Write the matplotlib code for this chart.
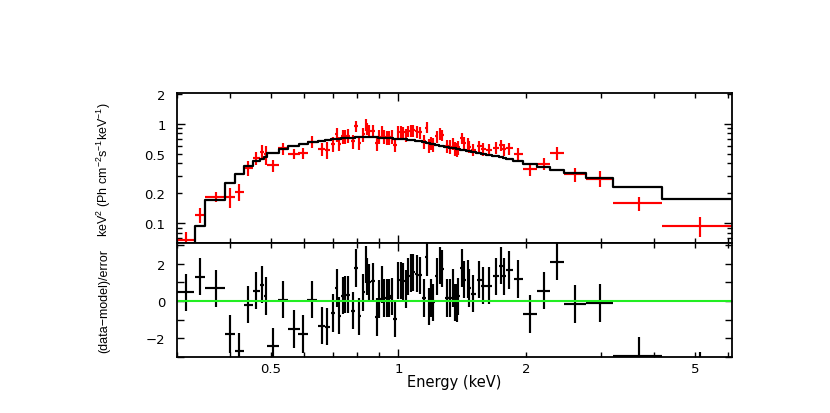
import numpy as np
import matplotlib
matplotlib.use("Agg")
import matplotlib.pyplot as plt
from matplotlib.ticker import FixedLocator, FixedFormatter

# ---------------- data ----------------
energy = [
    0.3155, 0.3405, 0.3705, 0.4013, 0.4216, 0.4424, 0.4625, 0.4760, 0.4860, 0.5072,
    0.5356, 0.5675, 0.5970, 0.6267, 0.6597, 0.6800, 0.7026,
    0.7156, 0.7257, 0.7393, 0.7485, 0.7621, 0.7806, 0.7947, 0.8091, 0.8270, 0.8378,
    0.8450, 0.8543, 0.8701, 0.8893, 0.9019, 0.9137, 0.9253, 0.9389, 0.9524, 0.9647,
    0.9822, 1.0000, 1.0131, 1.0276, 1.0427, 1.0558, 1.0697, 1.0849, 1.1051, 1.1251,
    1.1497, 1.1654, 1.1814, 1.1943, 1.2094, 1.2319, 1.2542, 1.2699, 1.3006, 1.3241,
    1.3481, 1.3606, 1.3732, 1.3852, 1.4110, 1.4310, 1.4577, 1.4680, 1.5027, 1.5500,
    1.5866, 1.6365, 1.6970, 1.7468, 1.7783, 1.8243, 1.9190,
    2.046, 2.200, 2.370, 2.615, 2.987, 3.692, 5.147]
energy_err = [
    0.0146, 0.0092, 0.0202, 0.0111, 0.0096, 0.0112, 0.0090, 0.0050, 0.0050, 0.0162,
    0.0147, 0.0182, 0.0164, 0.0170, 0.0126, 0.0100, 0.0080,
    0.0058, 0.0059, 0.0057, 0.0057, 0.0080, 0.0082, 0.0071, 0.0081, 0.0072, 0.0045,
    0.0041, 0.0063, 0.0088, 0.0080, 0.0061, 0.0059, 0.0063, 0.0068, 0.0065, 0.0075,
    0.0088, 0.0077, 0.0069, 0.0074, 0.0071, 0.0068, 0.0073, 0.0089, 0.0100, 0.0112,
    0.0101, 0.0079, 0.0072, 0.0070, 0.0094, 0.0112, 0.0095, 0.0116, 0.0136, 0.0119,
    0.0091, 0.0063, 0.0062, 0.0095, 0.0115, 0.0117, 0.0093, 0.0113, 0.0205, 0.0210,
    0.0216, 0.0276, 0.0276, 0.0203, 0.0194, 0.0352, 0.0500,
    0.0746, 0.0795, 0.0900, 0.1560, 0.2160, 0.4890, 0.9660]
flux = [
    0.0675, 0.1203, 0.184, 0.183, 0.2065, 0.360, 0.456, 0.520, 0.492, 0.382,
    0.567, 0.500, 0.508, 0.662, 0.561, 0.548, 0.630,
    0.7855, 0.632, 0.7473, 0.7543, 0.7596, 0.6706, 0.9482, 0.6462, 0.7864, 0.9795,
    0.893, 0.8508, 0.8547, 0.6403, 0.7387, 0.8275, 0.7387, 0.737, 0.7336, 0.7404,
    0.6157, 0.8342, 0.8313, 0.8197, 0.7671, 0.843, 0.8598, 0.8568, 0.8408, 0.8197,
    0.669, 0.9182, 0.6101, 0.6449, 0.6157, 0.7456, 0.7992, 0.7724, 0.599, 0.5908,
    0.6323, 0.5589, 0.5524, 0.5786, 0.7153, 0.6434, 0.6375, 0.5887, 0.5499, 0.5963,
    0.5576, 0.5448, 0.5719, 0.6101, 0.5524, 0.5666, 0.499,
    0.354, 0.397, 0.508, 0.312, 0.281, 0.1576, 0.0933]
flux_err = [
    0.014, 0.021, 0.020, 0.0415, 0.0404, 0.060, 0.067, 0.086, 0.110, 0.052,
    0.080, 0.061, 0.065, 0.095, 0.087, 0.101, 0.108,
    0.126, 0.101, 0.120, 0.121, 0.122, 0.107, 0.125, 0.103, 0.126, 0.130,
    0.122, 0.119, 0.119, 0.102, 0.118, 0.118, 0.118, 0.118, 0.117, 0.118,
    0.099, 0.116, 0.116, 0.113, 0.112, 0.114, 0.116, 0.115, 0.113, 0.111,
    0.105, 0.116, 0.096, 0.100, 0.098, 0.101, 0.104, 0.102, 0.094, 0.093,
    0.090, 0.090, 0.089, 0.090, 0.094, 0.089, 0.088, 0.084, 0.079, 0.082,
    0.078, 0.076, 0.078, 0.080, 0.077, 0.076, 0.069,
    0.053, 0.053, 0.0775, 0.050, 0.050, 0.0247, 0.0212]
model = [
    0.061, 0.0934, 0.1703, 0.256, 0.3153, 0.375, 0.419, 0.4455, 0.4614, 0.508,
    0.5613, 0.5921, 0.623, 0.6553, 0.6753, 0.6863, 0.699,
    0.7071, 0.7105, 0.7153, 0.717, 0.7219, 0.7253, 0.7286, 0.7303, 0.732, 0.732,
    0.732, 0.732, 0.7303, 0.7286, 0.727, 0.7253, 0.7219, 0.7203, 0.717, 0.7137,
    0.7105, 0.7071, 0.7055, 0.7006, 0.6958, 0.691, 0.6863, 0.6816, 0.6753, 0.6676,
    0.6539, 0.6449, 0.6375, 0.6302, 0.623, 0.6116, 0.6018, 0.5963, 0.5854, 0.5773,
    0.5694, 0.5655, 0.5615, 0.5576, 0.5499, 0.5423, 0.5337, 0.530, 0.519, 0.5025,
    0.4933, 0.4821, 0.4688, 0.4592, 0.4529, 0.4405, 0.4177,
    0.3906, 0.3678, 0.3456, 0.3202, 0.284, 0.2318, 0.1729]
resid = [
    0.46, 1.30, 0.68, -1.76, -2.69, -0.20, 0.55, 0.87, 0.28, -2.42,
    0.07, -1.50, -1.76, 0.07, -1.32, -1.37, -0.64,
    0.70, -0.78, 0.29, 0.34, 0.34, -0.52, 1.76, -0.82, 0.47, 1.94,
    1.32, 1.00, 1.05, -0.86, 0.11, 0.87, 0.16, 0.16, 0.16, 0.25,
    -0.95, 1.10, 1.09, 1.05, 0.64, 1.32, 1.50, 1.53, 1.46, 1.37,
    0.16, 2.35, -0.29, 0.16, -0.07, 1.32, 1.89, 1.73, 0.16, 0.16,
    0.70, -0.07, -0.11, 0.25, 1.76, 1.14, 1.18, 0.70, 0.39, 1.14,
    0.82, 0.82, 1.32, 1.89, 1.32, 1.67, 1.18,
    -0.70, 0.55, 2.10, -0.16, -0.11, -2.94, -3.75]
resid_err = 1.0

x_major = [1.0]
x_minor = [0.3, 0.4, 0.5, 0.6, 0.7, 0.8, 0.9, 2, 3, 4, 5, 6]
x_major_labels = ["1"]
x_minor_labels = ["", "", "0.5", "", "", "", "", "2", "", "", "5", ""]
y_major = [0.1, 1.0]
y_minor = [0.07, 0.08, 0.09, 0.2, 0.3, 0.4, 0.5, 0.6, 0.7, 0.8, 0.9, 2.0]
y_major_labels = ["0.1", "1"]
y_minor_labels = ["", "", "", "0.2", "", "", "0.5", "", "", "", "", "2"]
r_major = [-2, 0, 2]
r_minor = [-3, -1, 1, 3]
r_major_labels = ["\u22122", "0", "2"]

assert len(energy) == len(energy_err) == len(flux) == len(flux_err) == len(model) == len(resid)

# ---------------- figure ----------------
W, H = 830, 414
fig = plt.figure(figsize=(W / 100, H / 100), dpi=100)
fig.patch.set_facecolor("white")

L, R_ = 176.7, 731.7
T1, B1, B2 = 94.3, 244.3, 358.3
ax1 = fig.add_axes([L / W, 1 - B1 / H, (R_ - L) / W, (B1 - T1) / H])
ax2 = fig.add_axes([L / W, 1 - B2 / H, (R_ - L) / W, (B2 - B1) / H])

E = np.array(energy)
dE = np.array(energy_err)
lo, hi = E - dE, E + dE
edges = np.empty(len(E) + 1)
edges[0], edges[-1] = lo[0], hi[-1]
edges[1:-1] = 0.5 * (hi[:-1] + lo[1:])
xs = np.repeat(edges, 2)[1:-1]
ys = np.repeat(np.array(model), 2)

ax1.errorbar(E, flux, xerr=dE, yerr=flux_err, fmt="none", ecolor="#ff0000",
             elinewidth=1.55, capsize=0, zorder=2)
ax1.plot(xs, ys, color="black", lw=1.6, zorder=3)

ax2.errorbar(E, resid, xerr=dE, yerr=resid_err, fmt="none", ecolor="black",
             elinewidth=1.55, capsize=0, zorder=2)
ax2.axhline(0, color="#22ee22", lw=1.5, zorder=3)

xlim = (0.3, 6.11)
for ax in (ax1, ax2):
    ax.set_xscale("log")
    ax.set_xlim(*xlim)
    ax.xaxis.set_major_locator(FixedLocator(x_major))
    ax.xaxis.set_minor_locator(FixedLocator(x_minor))
    for s in ax.spines.values():
        s.set_linewidth(1.3)
        s.set_zorder(5)
    ax.tick_params(which="both", direction="in", top=True, right=True, width=1.0)
    ax.tick_params(which="major", length=6)
    ax.tick_params(which="minor", length=3.5)

ax1.set_yscale("log")
ax1.set_ylim(0.0626, 2.03)
ax1.yaxis.set_major_locator(FixedLocator(y_major))
ax1.yaxis.set_minor_locator(FixedLocator(y_minor))
ax1.yaxis.set_major_formatter(FixedFormatter(y_major_labels))
ax1.yaxis.set_minor_formatter(FixedFormatter(y_minor_labels))
ax1.tick_params(axis="x", which="both", labelbottom=False)
ax1.tick_params(axis="y", which="both", pad=8, labelsize=9.5)

ax2.set_ylim(-3.01, 3.09)
ax2.yaxis.set_major_locator(FixedLocator(r_major))
ax2.yaxis.set_minor_locator(FixedLocator(r_minor))
ax2.yaxis.set_major_formatter(FixedFormatter(r_major_labels))
ax2.tick_params(axis="y", which="major", length=5)
ax2.tick_params(axis="y", which="minor", length=5)
ax2.tick_params(axis="y", which="both", pad=8, labelsize=9.5)
ax2.xaxis.set_major_formatter(FixedFormatter(x_major_labels))
ax2.xaxis.set_minor_formatter(FixedFormatter(x_minor_labels))
ax2.tick_params(axis="x", which="both", pad=3.5, labelsize=9.5)

for lab in ax1.get_yticklabels(which="both") + ax2.get_yticklabels(which="both") + \
        ax2.get_xticklabels(which="both"):
    lab.set_family("DejaVu Sans")

ax2.set_xlabel("Energy (keV)", fontsize=10.5, family="DejaVu Sans")
ax2.xaxis.set_label_coords(0.5, -(383 - B2) / (B2 - B1))
ax2.xaxis.label.set_verticalalignment("center")

plt.rcParams["mathtext.default"] = "regular"
ax1.set_ylabel(r"keV$^{2}$ (Ph cm$^{-2}$s$^{-1}$keV$^{-1}$)", fontsize=9,
               family="Liberation Sans")
ax1.yaxis.set_label_coords((104 - L) / (R_ - L), 0.5)
ax1.yaxis.label.set_verticalalignment("center")
ax2.set_ylabel("(data\u2212model)/error", fontsize=9, family="Liberation Sans")
ax2.yaxis.set_label_coords((104 - L) / (R_ - L), 0.5)
ax2.yaxis.label.set_verticalalignment("center")

fig.savefig("out.png", dpi=100, facecolor="white")
